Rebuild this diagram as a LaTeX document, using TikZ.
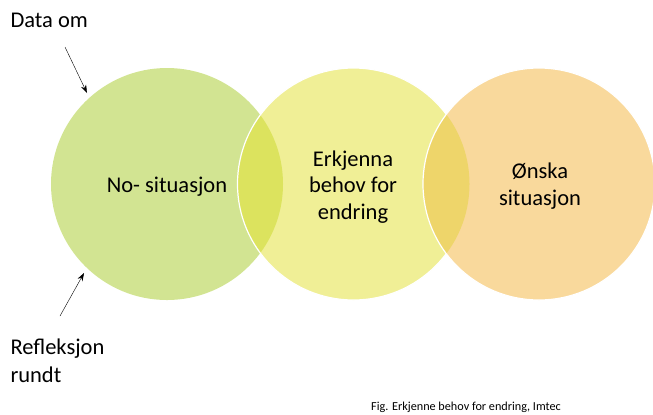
\documentclass[tikz,border=0pt]{standalone}
\usepackage{fontspec}
\setmainfont{Carlito}
\usetikzlibrary{arrows.meta}

\definecolor{nogreen}{RGB}{210,228,146}
\definecolor{erkyellow}{RGB}{240,239,150}
\definecolor{onskaorange}{RGB}{249,217,156}
\definecolor{lensgreen}{RGB}{220,227,94}
\definecolor{lensorange}{RGB}{238,213,106}

\tikzset{
    bigtext/.style={font=\fontsize{22.5bp}{26.5bp}\selectfont, align=center},
    sidetext/.style={font=\fontsize{22.5bp}{28bp}\selectfont, align=left, anchor=west},
    pointer/.style={-{Stealth[length=8bp, width=5.5bp]}, black, thin}
}

\begin{document}
\begin{tikzpicture}[x=1bp, y=-1bp]
        \useasboundingbox (0,0) rectangle (653,414);
        \pgfmathsetmacro{\r}{116}
        \coordinate (G) at (167,184);
        \coordinate (Y) at (353.5,184);
        \coordinate (O) at (539,184);

        % circles and overlaps
        \fill[nogreen] (G) circle (\r bp);
        \fill[erkyellow] (Y) circle (\r bp);
        \begin{scope}
            \clip (G) circle (\r bp);
            \fill[lensgreen] (Y) circle (\r bp);
        \end{scope}
        \draw[white, line width=1.2bp] (Y) circle (\r bp);
        \fill[onskaorange] (O) circle (\r bp);
        \begin{scope}
            \clip (Y) circle (\r bp);
            \fill[lensorange] (O) circle (\r bp);
        \end{scope}
        \draw[white, line width=1.2bp] (O) circle (\r bp);

        \node[bigtext] (no) at (167,187) {No- situasjon};
        \node[bigtext] (erk) at (353,187) {Erkjenna\\behov for\\endring};
        \node[bigtext] (onska) at (540,186) {Ønska\\situasjon};

        \node[sidetext] (data) at (7,20) {Data om};
        \node[sidetext] (refl) at (7,361) {Refleksjon\\rundt};

        \coordinate (dataTail) at (65,47);
        \coordinate (dataHead) at (87,93);
        \coordinate (reflTail) at (60,316);
        \coordinate (reflHead) at (84,273);
        \draw[pointer] (dataTail) -- (dataHead);
        \draw[pointer] (reflTail) -- (reflHead);

        % caption at the lower edge
        \node[font=\fontsize{12.2bp}{14bp}\selectfont, anchor=base west, inner sep=0pt] (fig) at (371,410) {Fig. Erkjenne behov for endring, Imtec};
    \end{tikzpicture}
\end{document}
